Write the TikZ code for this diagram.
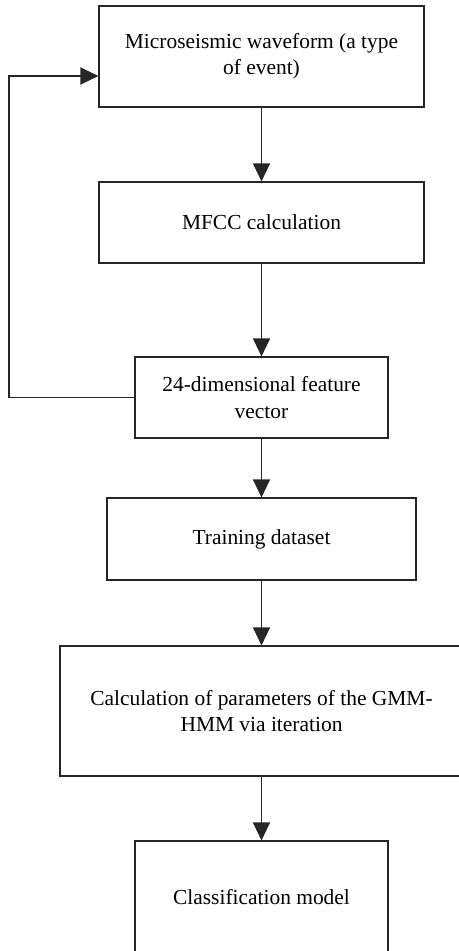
\documentclass[tikz,border=0pt]{standalone}
\usepackage{fontspec}
\setmainfont{Liberation Serif}
\usepackage{tikz}
\usetikzlibrary{arrows.meta,positioning}
\tikzset{
  stepbox/.style={
    shape = rectangle,
    draw = black!85,
    line width = 0.65pt,
    inner sep = 0pt,
    align = center,
    font = \fontsize{12.2}{15}\selectfont
  },
  flow/.style={
    draw = black!85,
    line width = 0.65pt,
    -{Triangle[length=0.36cm,width=0.34cm]}
  }
}

\begin{document}
\begin{tikzpicture}[x=0.02cm,y=-0.02cm]
  \useasboundingbox (0,0) rectangle (459,951);
  \node[stepbox, minimum width=6.5cm, minimum height=2.02cm] (wave) at (261.5,56.5)
    {Microseismic waveform (a type\\ of event)};
  \node[stepbox, minimum width=6.5cm, minimum height=1.62cm] (mfcc) at (261.5,222.5)
    {MFCC calculation};
  \node[stepbox, minimum width=5.06cm, minimum height=1.62cm] (feat) at (261.5,397.5)
    {24-dimensional feature\\ vector};
  \node[stepbox, minimum width=6.18cm, minimum height=1.64cm] (train) at (261.5,539)
    {Training dataset};
  \node[stepbox, minimum width=8.06cm, minimum height=2.6cm] (param) at (261.5,711)
    {Calculation of parameters of the GMM-\\ HMM via iteration};
  \node[stepbox, minimum width=5.06cm, minimum height=2.24cm] (model) at (261.5,897)
    {Classification model};

  \draw[flow] (wave) -- (mfcc);
  \draw[flow] (mfcc) -- (feat);
  \draw[flow] (feat) -- (train);
  \draw[flow] (train) -- (param);
  \draw[flow] (param) -- (model);

  % feedback loop
  \coordinate (loop) at (9,76);
  \draw[flow] (feat.west) -| (loop) -- (wave.west |- loop);
\end{tikzpicture}
\end{document}
